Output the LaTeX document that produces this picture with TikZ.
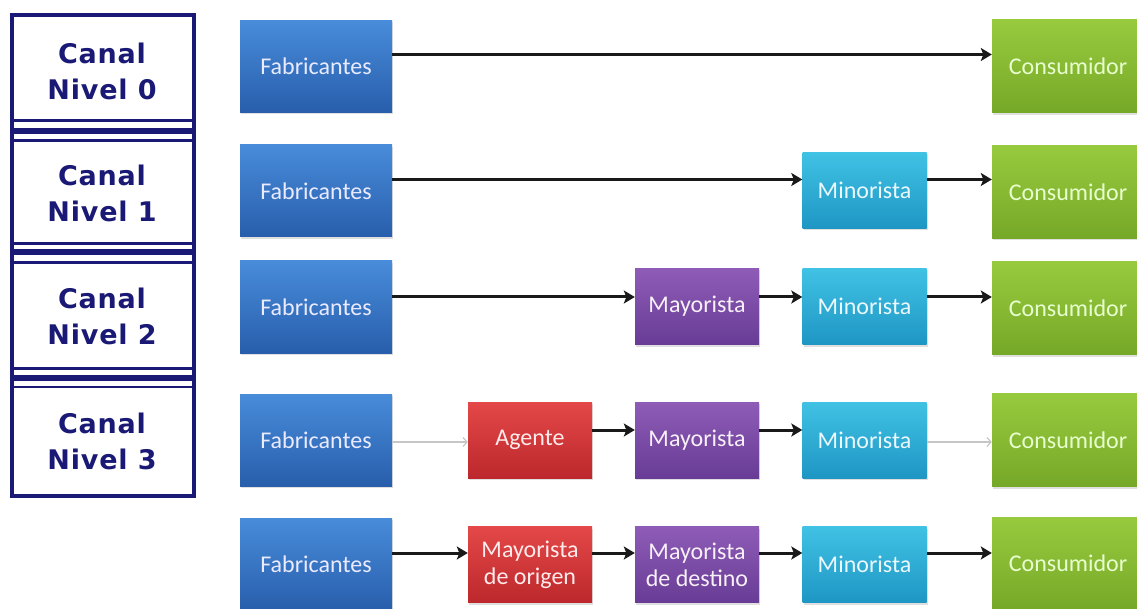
\documentclass[tikz,border=0pt]{standalone}
\usepackage{fontspec}
\setmainfont{Carlito}
\newfontfamily\canalfont[LetterSpace=3]{DejaVu Sans}
\usetikzlibrary{arrows.meta,shadows}
\definecolor{navy}{RGB}{26,26,118}
\definecolor{bluetop}{RGB}{72,140,218}
\definecolor{bluebot}{RGB}{40,94,172}
\definecolor{greentop}{RGB}{152,202,62}
\definecolor{greenbot}{RGB}{118,168,40}
\definecolor{cyantop}{RGB}{64,194,228}
\definecolor{cyanbot}{RGB}{30,150,196}
\definecolor{purptop}{RGB}{142,92,182}
\definecolor{purpbot}{RGB}{104,60,150}
\definecolor{redtop}{RGB}{228,72,72}
\definecolor{redbot}{RGB}{188,40,44}
\tikzset{
  box/.style={rectangle, inner sep=0pt, align=center,
    font=\fontsize{24}{27}\selectfont,
    drop shadow={shadow xshift=1pt, shadow yshift=-2pt, opacity=0.25}},
  bigbox/.style={box, minimum width=152pt, minimum height=92pt},
  smallbox/.style={box, minimum width=124pt, minimum height=76pt},
  fab/.style={bigbox, top color=bluetop, bottom color=bluebot, text=blue!8!white},
  cons/.style={box, minimum width=152pt, minimum height=93pt, top color=greentop, bottom color=greenbot, text=green!10!white!90!yellow},
  mino/.style={smallbox, top color=cyantop, bottom color=cyanbot, text=cyan!8!white},
  mayo/.style={smallbox, top color=purptop, bottom color=purpbot, text=violet!6!white},
  agen/.style={smallbox, top color=redtop, bottom color=redbot, text=red!8!white},
  arr/.style={line width=3pt, black!90, -{Stealth[length=11pt,width=13pt,inset=2.5pt]}},
  garr/.style={line width=1.2pt, gray!45, -{Straight Barb[length=4pt,width=9pt]}},
  canal/.style={font=\canalfont\bfseries\fontsize{27}{36}\selectfont, text=navy, align=center},
  frame/.style={draw=navy, line width=4pt},
  thinsep/.style={draw=navy, line width=2.5pt},
  thicksep/.style={draw=navy, line width=6pt}
}
\begin{document}
\begin{tikzpicture}[x=1pt,y=-1pt]
\useasboundingbox[fill=white] (0,0) rectangle (1137,609);

% left panel
\draw[frame] (11.5,15.5) rectangle (194,495.5);
\draw[thinsep] (11.5,120.5) -- (194,120.5);
\draw[thicksep] (11.5,131) -- (194,131);
\draw[thinsep] (11.5,140.5) -- (194,140.5);
\draw[thinsep] (11.5,243.5) -- (194,243.5);
\draw[thicksep] (11.5,252.5) -- (194,252.5);
\draw[thinsep] (11.5,262.5) -- (194,262.5);
\draw[thinsep] (11.5,368.5) -- (194,368.5);
\draw[thicksep] (11.5,377.5) -- (194,377.5);
\draw[thinsep] (11.5,387) -- (194,387);
\node[canal] (c0) at (102,71) {Canal\\Nivel 0};
\node[canal] (c1) at (102,193) {Canal\\Nivel 1};
\node[canal] (c2) at (102,316) {Canal\\Nivel 2};
\node[canal] (c3) at (102,441) {Canal\\Nivel 3};

% row 1
\node[fab] (f1) at (316,66.5) {Fabricantes};
\node[cons] (k1) at (1068,66.5) {Consumidor};
\draw[arr] ([yshift=12pt]f1.east) -- ([yshift=12pt]k1.west);

% row 2
\node[fab] (f2) at (316,191) {Fabricantes};
\node[mino] (n2) at (864.5,190.5) {Minorista};
\node[cons] (k2) at (1068,192) {Consumidor};
\draw[arr] ([yshift=11.5pt]f2.east) -- ([yshift=11pt]n2.west);
\draw[arr] ([yshift=11pt]n2.east) -- ([yshift=12.5pt]k2.west);

% row 3
\node[fab] (f3) at (316,307) {Fabricantes};
\node[mayo] (m3) at (697,306.5) {Mayorista};
\node[mino] (n3) at (864.5,306.5) {Minorista};
\node[cons] (k3) at (1068,308) {Consumidor};
\draw[arr] ([yshift=10pt]f3.east) -- ([yshift=9.5pt]m3.west);
\draw[arr] ([yshift=9.5pt]m3.east) -- ([yshift=9.5pt]n3.west);
\draw[arr] ([yshift=9.5pt]n3.east) -- ([yshift=11pt]k3.west);

% row 4
\node[fab] (f4) at (316,440) {Fabricantes};
\node[agen] (a4) at (530,440) {Agente};
\node[mayo] (m4) at (697,440) {Mayorista};
\node[mino] (n4) at (864.5,440) {Minorista};
\node[cons] (k4) at (1068,440) {Consumidor};
\draw[garr] ([yshift=-2pt]f4.east) -- ([yshift=-2pt]a4.west);
\draw[arr] ([yshift=10pt]a4.east) -- ([yshift=10pt]m4.west);
\draw[arr] ([yshift=10pt]m4.east) -- ([yshift=10pt]n4.west);
\draw[garr] ([yshift=-2pt]n4.east) -- ([yshift=-2pt]k4.west);

% row 5
\node[fab] (f5) at (316,564) {Fabricantes};
\node[agen] (a5) at (530,564.5) {Mayorista\\de origen};
\node[mayo] (m5) at (697,564.5) {Mayorista\\de destino};
\node[mino] (n5) at (864.5,564.5) {Minorista};
\node[cons] (k5) at (1068,563.5) {Consumidor};
\draw[arr] ([yshift=11pt]f5.east) -- ([yshift=11.5pt]a5.west);
\draw[arr] ([yshift=11.5pt]a5.east) -- ([yshift=11.5pt]m5.west);
\draw[arr] ([yshift=11.5pt]m5.east) -- ([yshift=11.5pt]n5.west);
\draw[arr] ([yshift=11.5pt]n5.east) -- ([yshift=10.5pt]k5.west);
\end{tikzpicture}
\end{document}
